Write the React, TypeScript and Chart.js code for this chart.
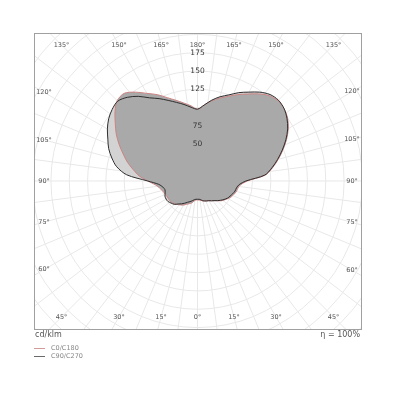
import { useEffect, useRef } from 'react';
import { Chart, registerables } from 'chart.js';

Chart.register(...registerables);

// gamma angles (0 = nadir, 180 = zenith)
const gammaAngles = [0, 5, 10, 15, 20, 25, 30, 35, 40, 45, 50, 55, 60, 65, 70, 75, 80, 85, 90, 95, 100, 105, 110, 115, 120, 125, 130, 135, 140, 145, 150, 155, 160, 165, 170, 175, 180];

// cd/klm, right half C0, left half C180
const c0Values = [26, 26, 27, 28, 29, 30, 31, 33, 35, 38, 42, 45, 48, 51, 53, 55, 56, 59, 68, 93, 104, 114, 124, 134, 143, 150, 154, 155, 152, 145, 137, 130, 123, 117, 111, 104, 98];
const c180Values = [26, 26, 28, 31, 33, 35, 38, 40, 42, 44, 46, 46.5, 46.5, 47, 48, 50, 53, 58, 68, 80, 89, 99, 108, 118, 128, 137, 147, 155, 156, 148, 138, 130, 121, 114, 108, 103, 98];
// right half C90, left half C270
const c90Values = [25, 25, 26, 28, 29, 30, 31, 33, 35, 38, 41, 44, 47, 49, 51, 53, 54, 57, 66, 92, 103, 113, 123, 133, 142, 149, 154, 156, 154, 148, 140, 133, 125, 119, 112, 104, 98];
const c270Values = [25, 25, 26, 28, 30, 32, 35, 38, 41, 45, 47, 49, 49.5, 49, 47, 46, 48, 53, 68, 97, 112, 121, 129, 135, 142, 148, 152, 154, 149, 141, 131, 124, 117, 111, 106, 101, 98];

const seriesNames = ['C0/C180', 'C90/C270'];
const ringTicks = [50, 75, 125, 150, 175];
const angleTicks = [0, 15, 30, 45, 60, 75, 90, 105, 120, 135, 150, 165, 180];
const unitLabel = 'cd/klm';
const efficiencyLabel = 'η = 100%';

function toShape(right: number[], left: number[]) {
  const pts: { x: number; y: number }[] = [];
  gammaAngles.forEach((g, i) => {
    const a = (g * Math.PI) / 180;
    pts.push({ x: right[i] * Math.sin(a), y: -right[i] * Math.cos(a) });
  });
  for (let i = gammaAngles.length - 2; i >= 0; i--) {
    const a = (gammaAngles[i] * Math.PI) / 180;
    pts.push({ x: -left[i] * Math.sin(a), y: -left[i] * Math.cos(a) });
  }
  return pts;
}

const polarGrid = {
  id: 'polarGrid',
  beforeDraw(chart: any) {
    const { ctx, chartArea, scales } = chart;
    const xs = scales.x;
    const ys = scales.y;
    const cx = xs.getPixelForValue(0);
    const cy = ys.getPixelForValue(0);
    const k = xs.getPixelForValue(100) - cx;
    ctx.save();
    ctx.beginPath();
    ctx.rect(chartArea.left, chartArea.top, chartArea.right - chartArea.left, chartArea.bottom - chartArea.top);
    ctx.clip();
    ctx.strokeStyle = '#e8e8e8';
    ctx.lineWidth = 1;
    for (let r = 25; r <= 325; r += 25) {
      ctx.beginPath();
      ctx.arc(cx, cy, (r / 100) * k, 0, Math.PI * 2);
      ctx.stroke();
    }
    for (let a = 0; a < 360; a += 7.5) {
      const rad = (a * Math.PI) / 180;
      ctx.beginPath();
      ctx.moveTo(cx, cy);
      ctx.lineTo(cx + Math.sin(rad) * 4 * k, cy + Math.cos(rad) * 4 * k);
      ctx.stroke();
    }
    ctx.restore();
  },
  afterDraw(chart: any) {
    const { ctx, chartArea, scales } = chart;
    const xs = scales.x;
    const ys = scales.y;
    const cx = xs.getPixelForValue(0);
    const cy = ys.getPixelForValue(0);
    ctx.save();
    // frame
    ctx.strokeStyle = '#a0a0a0';
    ctx.lineWidth = 1;
    ctx.strokeRect(chartArea.left + 0.5, chartArea.top + 0.5, chartArea.right - chartArea.left - 1, chartArea.bottom - chartArea.top - 1);
    // angle labels
    ctx.font = '6.5px "DejaVu Sans"';
    ctx.fillStyle = '#555';
    ctx.textAlign = 'center';
    ctx.textBaseline = 'middle';
    const leftW = cx - chartArea.left - 10;
    const rightW = chartArea.right - cx - 10;
    const topH = cy - chartArea.top - 12;
    const botH = chartArea.bottom - cy - 13;
    angleTicks.forEach((a) => {
      const rad = (a * Math.PI) / 180;
      const sides = a === 0 || a === 180 ? [1] : [-1, 1];
      sides.forEach((s) => {
        const dx = s * Math.sin(rad);
        const dy = Math.cos(rad);
        const tx = Math.abs(dx) > 1e-6 ? (dx < 0 ? leftW : rightW) / Math.abs(dx) : Infinity;
        const ty = Math.abs(dy) > 1e-6 ? (dy < 0 ? topH : botH) / Math.abs(dy) : Infinity;
        const t = Math.min(tx, ty);
        ctx.fillText(a + '°', cx + dx * t, cy + dy * t);
      });
    });
    // ring labels
    ctx.font = '7.5px "DejaVu Sans"';
    ctx.fillStyle = '#333';
    ringTicks.forEach((r) => {
      ctx.fillText(String(r), cx, ys.getPixelForValue(r));
    });
    // unit and efficiency
    ctx.font = '8px "DejaVu Sans"';
    ctx.fillStyle = '#555';
    ctx.textAlign = 'left';
    ctx.fillText(unitLabel, chartArea.left + 1, chartArea.bottom + 5);
    ctx.textAlign = 'right';
    ctx.fillText(efficiencyLabel, chartArea.right - 2, chartArea.bottom + 5);
    // legend
    ctx.font = '6.5px "DejaVu Sans"';
    ctx.textAlign = 'left';
    const legendColors = ['#d49a9a', '#6a6a6a'];
    seriesNames.forEach((name, i) => {
      const y = chartArea.bottom + 18 + i * 8;
      ctx.strokeStyle = legendColors[i];
      ctx.beginPath();
      ctx.moveTo(chartArea.left, y + 0.5);
      ctx.lineTo(chartArea.left + 11, y + 0.5);
      ctx.stroke();
      ctx.fillStyle = '#888';
      ctx.fillText(name, chartArea.left + 17, y);
    });
    ctx.restore();
  },
};

export default function App() {
  const ref = useRef<HTMLCanvasElement>(null);
  useEffect(() => {
    if (!ref.current) return;
    const shapeC90 = toShape(c90Values, c270Values);
    const shapeC0 = toShape(c0Values, c180Values);
    const chart = new Chart(ref.current, {
      type: 'line',
      data: {
        datasets: [
          {
            label: seriesNames[1],
            data: shapeC90,
            borderColor: '#2e2e2e',
            borderWidth: 1,
            fill: false,
            pointRadius: 0,
            tension: 0.3,
          },
          {
            label: seriesNames[0],
            data: shapeC0,
            borderColor: '#cc8484',
            borderWidth: 1,
            fill: false,
            pointRadius: 0,
            tension: 0.3,
          },
          {
            label: seriesNames[0] + ' area',
            data: shapeC0,
            borderWidth: 0,
            borderColor: 'rgba(0,0,0,0)',
            backgroundColor: '#a9a9a9',
            fill: 'shape',
            pointRadius: 0,
            tension: 0.3,
          },
          {
            label: seriesNames[1] + ' area',
            data: shapeC90,
            borderWidth: 0,
            borderColor: 'rgba(0,0,0,0)',
            backgroundColor: '#d3d3d3',
            fill: 'shape',
            pointRadius: 0,
            tension: 0.3,
          },
        ],
      } as any,
      options: {
        responsive: false,
        animation: false,
        events: [],
        layout: { padding: { left: 34, top: 33, right: 38, bottom: 70 } },
        scales: {
          x: { type: 'linear', min: -223.1, max: 224.4, display: false },
          y: { type: 'linear', min: -203.3, max: 201.9, display: false },
        },
        plugins: {
          legend: { display: false },
          tooltip: { enabled: false },
          filler: { drawTime: 'beforeDatasetsDraw' },
        } as any,
      },
      plugins: [polarGrid],
    });
    return () => chart.destroy();
  }, []);
  return (
    <div style={{ position: 'absolute', left: 0, top: 0, width: 400, height: 400, background: '#fff' }}>
      <canvas ref={ref} width={400} height={400} />
    </div>
  );
}
